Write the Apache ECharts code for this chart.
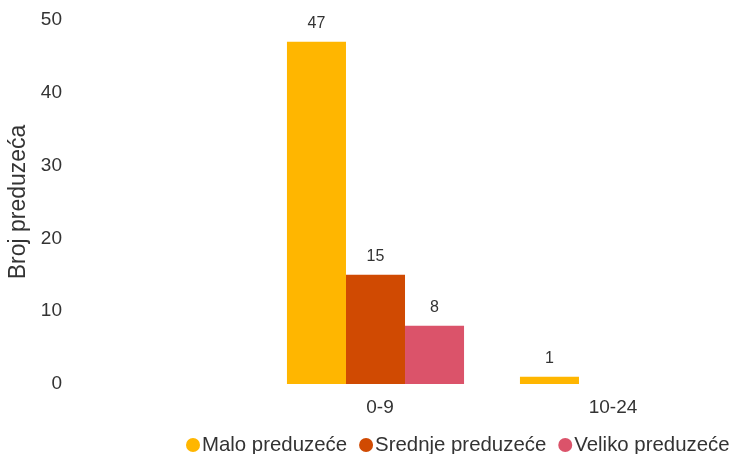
<!DOCTYPE html>
<html lang="sr">
<head>
    <meta charset="UTF-8">
    <title>Broj preduzeća</title>
    <script src="https://cdn.jsdelivr.net/npm/echarts@6/dist/echarts.min.js"></script>
    <style>
        html, body { margin: 0; padding: 0; background: #fff; }
        #chart { width: 733px; height: 454px; }
    </style>
</head>
<body>
<div id="chart"></div>
<script>
    // kategorije (prva je prazna, kao na originalu)
    var categories = ['', '0-9', '10-24'];
    var maloValues = [null, 47, 1];
    var srednjeValues = [null, 15, null];
    var velikoValues = [null, 8, null];
    var yTicks = [0, 10, 20, 30, 40, 50];

    var textColor = '#333';
    var font = 'Liberation Sans, Arial, sans-serif';

    var chart = echarts.init(document.getElementById('chart'));

    function barSeries(name, data, color) {
        return {
            name: name,
            type: 'bar',
            data: data,
            barGap: 0,
            barCategoryGap: '24%',
            itemStyle: { color: color },
            label: {
                show: true,
                position: 'top',
                distance: 10,
                color: textColor,
                fontSize: 16,
                fontFamily: font
            }
        };
    }

    chart.setOption({
        animation: false,
        textStyle: { fontFamily: font },
        grid: { left: 26, right: 8, top: 20, bottom: 70, outerBoundsMode: 'none' },
        legend: {
            data: ['Malo preduzeće', 'Srednje preduzeće', 'Veliko preduzeće'],
            left: 181,
            bottom: -6,
            width: 620,
            icon: 'circle',
            itemWidth: 14,
            itemHeight: 14,
            itemGap: 12,
            textStyle: { color: textColor, fontSize: 20.4, padding: [0, 0, 0, -3] }
        },
        xAxis: {
            type: 'category',
            data: categories,
            axisLine: { show: false },
            axisTick: { show: false },
            axisLabel: { color: textColor, fontSize: 19, margin: 14, padding: [0, 0, 0, 9] }
        },
        yAxis: {
            type: 'value',
            min: yTicks[0],
            max: yTicks[yTicks.length - 1],
            interval: 10,
            name: 'Broj preduzeća',
            nameLocation: 'middle',
            nameGap: -4,
            nameMoveOverlap: false,
            nameTextStyle: { color: textColor, fontSize: 23 },
            axisLine: { show: false },
            axisTick: { show: false },
            splitLine: { show: false },
            axisLabel: { color: textColor, fontSize: 19, margin: -36 }
        },
        series: [
            barSeries('Malo preduzeće', maloValues, '#FFB600'),
            barSeries('Srednje preduzeće', srednjeValues, '#D04A02'),
            barSeries('Veliko preduzeće', velikoValues, '#DB536A')
        ]
    });
</script>
</body>
</html>
